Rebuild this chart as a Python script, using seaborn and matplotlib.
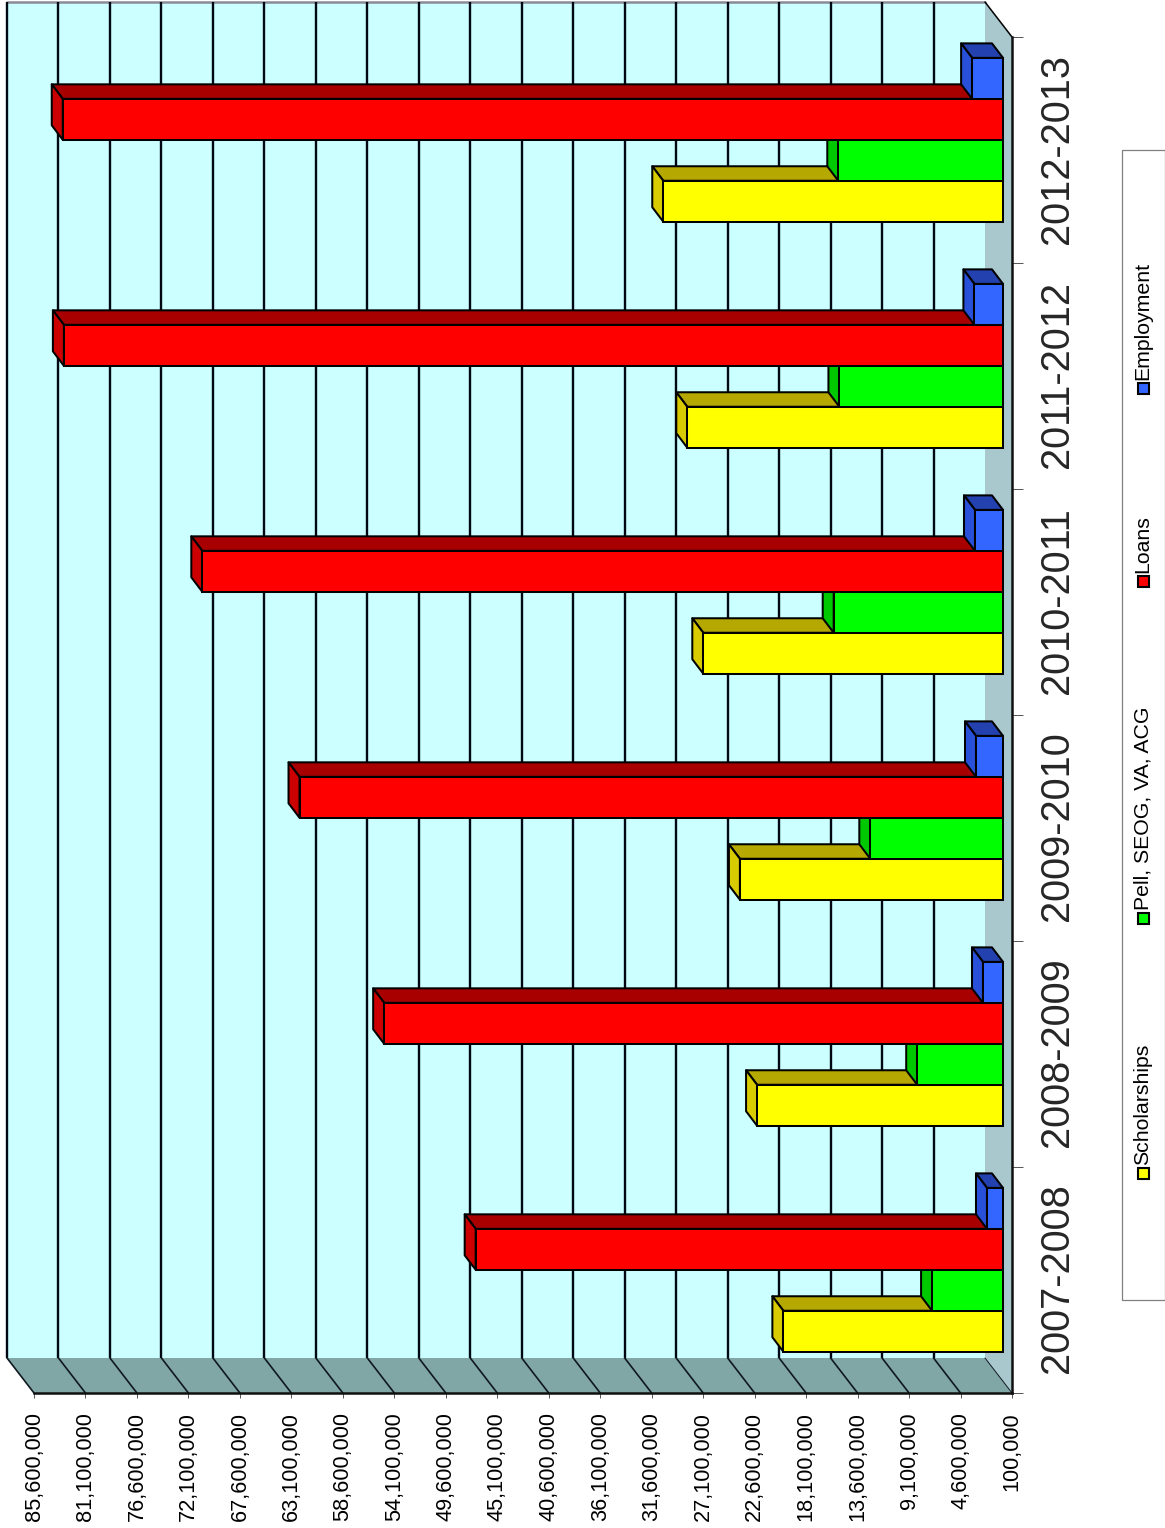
import numpy as np
import pandas as pd
import seaborn as sns
import matplotlib
matplotlib.use("Agg")
import matplotlib.pyplot as plt
from matplotlib.patches import Polygon, Rectangle
from matplotlib.transforms import ScaledTranslation

years = ["2007-2008", "2008-2009", "2009-2010", "2010-2011", "2011-2012", "2012-2013"]
types = ["Scholarships", "Pell, SEOG, VA, ACG", "Loans", "Employment"]
scholarships = [19300000, 21600000, 23100000, 26300000, 27700000, 29800000]
pell = [6300000, 7600000, 11700000, 14900000, 14400000, 14500000]
loans = [46200000, 54200000, 61600000, 70100000, 82200000, 82300000]
employment = [1500000, 1850000, 2460000, 2550000, 2600000, 2800000]
value_ticks = [100000, 4600000, 9100000, 13600000, 18100000, 22600000, 27100000, 31600000,
               36100000, 40600000, 45100000, 49600000, 54100000, 58600000, 63100000,
               67600000, 72100000, 76600000, 81100000, 85600000]
front_colors = ["#FFFF00", "#00FF00", "#FF0000", "#3366FF"]
top_colors = ["#B5A800", "#00B000", "#A80000", "#2342B0"]
side_colors = ["#D8CC00", "#00C800", "#CC0000", "#2850D8"]

W, H = 1165, 1528
sns.set_style("white")
plt.rcParams["font.family"] = ["Liberation Sans", "DejaVu Sans"]
fig = plt.figure(figsize=(W / 100, H / 100), dpi=100, facecolor="white")

L, R, T, B = 34, 1012, 37, 1393
ax = fig.add_axes([L / W, 1 - B / H, (R - L) / W, (B - T) / H])
ax.patch.set_visible(False)

df = pd.DataFrame({
    "year": years * 4,
    "type": np.repeat(types, 6),
    "value": scholarships + pell + loans + employment,
})
sns.barplot(data=df, x="value", y="year", hue="type", hue_order=types, order=years,
            orient="y", palette=front_colors, saturation=1, width=0.725, gap=0, dodge=True,
            edgecolor="black", linewidth=1.45, legend=False, ax=ax)

vmin, vmax = value_ticks[0], value_ticks[-1]
ax.set_xlim(vmax, vmin)
ax.set_ylim(-0.5, 5.5)
vpp = (vmax - vmin) / (R - L)          # value units per pixel
cpp = 6 / (B - T)                      # category units per pixel

# walls
wx, wy = 27 * vpp, 35 * cpp
ax.add_patch(Polygon([(vmax + wx, -0.5 + wy), (vmin + wx, -0.5 + wy), (vmin + wx, 5.5 + wy), (vmax + wx, 5.5 + wy)],
                     closed=True, fc="#CCFFFF", ec="none", zorder=0, clip_on=False))
ax.add_patch(Polygon([(vmin, -0.5), (vmin + wx, -0.5 + wy), (vmin + wx, 5.5 + wy), (vmin, 5.5)],
                     closed=True, fc="#A9C8CE", ec="none", zorder=0.5, clip_on=False))
ax.add_patch(Polygon([(vmax, -0.5), (vmax + wx, -0.5 + wy), (vmin + wx, -0.5 + wy), (vmin, -0.5)],
                     closed=True, fc="#80A6A6", ec="none", zorder=0.6, clip_on=False))
ax.plot([vmax + wx, vmin + wx], [5.5 + wy, 5.5 + wy], color="#8A8A98", lw=1.8, zorder=1, clip_on=False)
ax.plot([vmin + wx, vmin], [5.5 + wy, 5.5], color="black", lw=1.1, zorder=1, clip_on=False)
for i, v in enumerate(value_ticks):
    if i > 0:
        ax.plot([v + wx, v + wx], [5.5 + wy, -0.5 + wy], color="#000814", lw=1.7, zorder=1,
                clip_on=False, solid_capstyle="butt")
    ax.plot([v + wx, v], [-0.5 + wy, -0.5], color="#101820", lw=1.2 if i > 0 else 0.7, zorder=1, clip_on=False)

# bars: shift to mid depth and add the 3-D faces
bx, by = 9 * vpp, 10.2 * cpp
dx, dy = 11 * vpp, 14.5 * cpp
for k, cont in enumerate(ax.containers):
    for p in cont.patches:
        v, y0, h = p.get_width(), p.get_y() + by, p.get_height()
        base, tip, y1 = vmin + bx, v + bx, y0 + h
        p.set_x(base); p.set_width(tip - base); p.set_y(y0)
        p.set_zorder(3 + k + 0.5); p.set_clip_on(False)
        top = [(tip, y1), (base, y1), (base + dx, y1 + dy), (tip + dx, y1 + dy)]
        side = [(tip, y0), (tip, y1), (tip + dx, y1 + dy), (tip + dx, y0 + dy)]
        ax.add_patch(Polygon(top, closed=True, fc=top_colors[k], ec="black", lw=1.45,
                             zorder=3 + k, clip_on=False, joinstyle="round"))
        ax.add_patch(Polygon(side, closed=True, fc=side_colors[k], ec="black", lw=1.45,
                             zorder=3 + k + 0.2, clip_on=False, joinstyle="round"))

# axes
for s in ("top", "left"):
    ax.spines[s].set_visible(False)
for s in ("bottom", "right"):
    ax.spines[s].set_visible(True)
    ax.spines[s].set_color("#101010")
    ax.spines[s].set_linewidth(1.8)
    ax.spines[s].set_zorder(2)

ax.set_xlabel(""); ax.set_ylabel("")
ax.set_xticks(value_ticks)
ax.set_xticklabels([f"{v:,}" for v in value_ticks], rotation=90, fontsize=15.7, color="black")
ax.tick_params(axis="x", which="major", bottom=True, length=3.6, width=0.7, color="#555555", pad=10)

ax.yaxis.tick_right()
ax.set_yticks(np.arange(-0.5, 6, 1), labels=[""] * 7)
ax.set_yticks(np.arange(6), labels=years, minor=True)
ax.tick_params(axis="y", which="major", right=True, length=8, width=0.7, color="#555555")
ax.tick_params(axis="y", which="minor", right=False, length=0, pad=19, labelsize=28.6)
shift_y = ScaledTranslation(0, 1 / 72, fig.dpi_scale_trans)
for t in ax.get_yticklabels(minor=True):
    t.set_rotation(90); t.set_va("center"); t.set_ha("left")
    t.set_transform(t.get_transform() + shift_y)

# legend, drawn by hand because its entries are rotated
def fx(x): return x / W
def fy(y): return 1 - y / H
fig.add_artist(Rectangle((fx(1122), fy(1300)), 42.5 / W, 1150 / H, transform=fig.transFigure,
                         fc="white", ec="#808080", lw=0.9, clip_on=False))
handle_y = [1173, 918, 581, 388]
for name, c, hy in zip(types, front_colors, handle_y):
    fig.add_artist(Rectangle((fx(1138), fy(hy + 5.5)), 11 / W, 11 / H, transform=fig.transFigure,
                             fc=c, ec="black", lw=1.5))
    fig.text(fx(1143), fy(hy - 8), name, rotation=90, ha="center", va="bottom", fontsize=15.3, color="black")

fig.savefig("out.png", dpi=100, facecolor="white")
